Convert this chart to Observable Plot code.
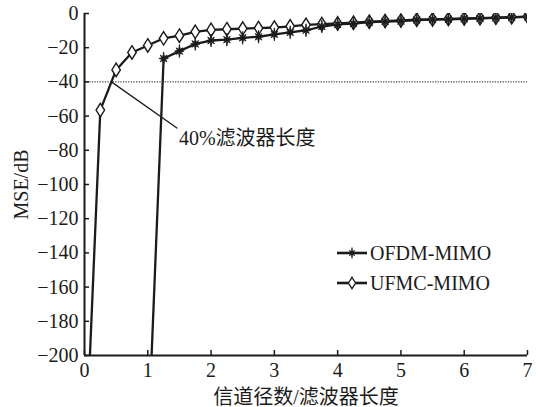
<!DOCTYPE html>
<html><head><meta charset="utf-8">
<script src="https://cdn.jsdelivr.net/npm/d3@7"></script>
<script src="https://cdn.jsdelivr.net/npm/@observablehq/plot@0.6"></script>
<style>
body{margin:0;background:#fff}
#chart{position:relative;width:538px;height:407px;overflow:hidden}
.leg{position:absolute;left:336px;height:20px;display:flex;align-items:center;font:20px "Liberation Serif",serif;color:#1b1b1b;white-space:nowrap}
.leg svg{display:block;margin-right:2px}
</style></head><body><div id="chart"></div>
<script>
// ---- data ----
const ufmcX = [0,0.25,0.5,0.75,1,1.25,1.5,1.75,2,2.25,2.5,2.75,3,3.25,3.5,3.75,4,4.25,4.5,4.75,5,5.25,5.5,5.75,6,6.25,6.5,6.75,7];
const ufmcY = [-275,-56.5,-33,-22.8,-18.7,-14.5,-13,-10.7,-9.6,-9.2,-8.8,-8.5,-8.2,-7.5,-6.6,-6.2,-5.8,-5.4,-4.8,-4.4,-4.1,-3.6,-3.4,-3.2,-2.9,-2.7,-2.4,-2.1,-1.8];
const ofdmX = [1,1.25,1.5,1.75,2,2.25,2.5,2.75,3,3.25,3.5,3.75,4,4.25,4.5,4.75,5,5.25,5.5,5.75,6,6.25,6.5,6.75,7];
const ofdmY = [-255,-26.3,-22,-17.8,-15.8,-15.3,-14.2,-13.6,-12.2,-11,-9.8,-7.6,-6.4,-5.9,-5.1,-4.7,-4.4,-3.8,-3.6,-3.4,-3.1,-2.9,-2.6,-2.3,-2.0];
const xTicks = [0,1,2,3,4,5,6,7];
const yTicks = [-200,-180,-160,-140,-120,-100,-80,-60,-40,-20,0];
const seriesNames = ["OFDM-MIMO","UFMC-MIMO"];
const xLabel = "信道径数/滤波器长度";
const yLabel = "MSE/dB";
const threshold = -40;
const annotationText = "40%滤波器长度";
const annotationAt = [{x:1.46, y:-67}];

// ---- build ----
const ink = "#1b1b1b";
const ufmc = ufmcX.map((x,i)=>({x, y:ufmcY[i]}));
const ofdm = ofdmX.map((x,i)=>({x, y:ofdmY[i]}));

// where UFMC crosses the threshold
let cross = null;
for (let i=1;i<ufmc.length;i++){
  const a=ufmc[i-1], b=ufmc[i];
  if ((a.y-threshold)*(b.y-threshold)<=0 && a.y!==b.y){
    const t=(threshold-a.y)/(b.y-a.y);
    cross={x:a.x+t*(b.x-a.x), y:threshold}; break;
  }
}
const leader = [cross, annotationAt[0]];

const diamond = {draw(ctx,size){const r=Math.sqrt(size/Math.PI);const w=r*0.85,h=r*1.35;
  ctx.moveTo(0,-h);ctx.lineTo(w,0);ctx.lineTo(0,h);ctx.lineTo(-w,0);ctx.closePath();}};
const star = {draw(ctx,size){const r=Math.sqrt(size/Math.PI);const n=8;
  for(let i=0;i<2*n;i++){const a=i*Math.PI/n-Math.PI/2;
    const rr = i%2 ? r*0.4 : (i%8===0 ? r*1.3 : r*0.95);
    const px=rr*Math.cos(a), py=rr*Math.sin(a);
    if(i===0) ctx.moveTo(px,py); else ctx.lineTo(px,py);}
  ctx.closePath();}};

const fontFam = '"Liberation Serif","Noto Sans CJK SC",serif';
const fmt = d => d<0 ? "\u2212"+(-d) : String(d);

const chart = Plot.plot({
  width:538, height:407,
  marginLeft:84, marginRight:11, marginTop:13, marginBottom:52,
  x:{domain:[0,7]},
  y:{domain:[-200,0]},
  style:{fontFamily:fontFam, fontSize:"20px", color:ink, background:"transparent", overflow:"visible"},
  marks:[
    Plot.ruleY([threshold],{stroke:ink, strokeWidth:1, strokeDasharray:"1.3,1.3"}),
    Plot.line(leader,{x:"x",y:"y",stroke:ink,strokeWidth:1.3}),
    Plot.text(annotationAt,{x:"x",y:"y",text:()=>annotationText,textAnchor:"start",dx:2,dy:11,fontSize:20,fill:ink,fontFamily:fontFam}),
    Plot.line(ufmc,{x:"x",y:"y",stroke:ink,strokeWidth:2.3,clip:true}),
    Plot.line(ofdm,{x:"x",y:"y",stroke:ink,strokeWidth:2.3,clip:true}),
    Plot.dot(ufmc,{x:"x",y:"y",symbol:diamond,r:5,fill:"white",stroke:ink,strokeWidth:1.4,clip:true}),
    Plot.dot(ofdm,{x:"x",y:"y",symbol:star,r:5,fill:ink,stroke:ink,strokeWidth:0.8,clip:true}),
    Plot.axisX({ticks:xTicks,tickFormat:fmt,tickSize:-5,tickPadding:12,strokeWidth:1.5,label:xLabel,labelAnchor:"center",labelArrow:"none",labelOffset:48,labelDx:5}),
    Plot.axisY({ticks:yTicks,tickFormat:fmt,tickSize:-5,tickPadding:11,strokeWidth:1.5,label:yLabel,labelAnchor:"center",labelArrow:"none",labelOffset:71}),
    Plot.ruleX([0],{stroke:ink,strokeWidth:2}),
    Plot.ruleY([-200],{stroke:ink,strokeWidth:2})
  ]
});
const root = document.getElementById("chart");
root.appendChild(chart);

// legend
const legTops = [243, 273];
const syms = [star, diamond];
const fills = [ink, "white"];
seriesNames.forEach((name,i)=>{
  const div=document.createElement("div");
  div.className="leg"; div.style.top=legTops[i]+"px";
  const p = d3.symbol(syms[i], 4.2*4.2*Math.PI)();
  div.innerHTML = `<svg width="32" height="20"><line x1="1" x2="31" y1="10" y2="10" stroke="${ink}" stroke-width="2.6"/><path transform="translate(16,10)" d="${p}" fill="${fills[i]}" stroke="${ink}" stroke-width="${i?1.3:0.6}"/></svg><span>${name}</span>`;
  root.appendChild(div);
});
</script></body></html>
